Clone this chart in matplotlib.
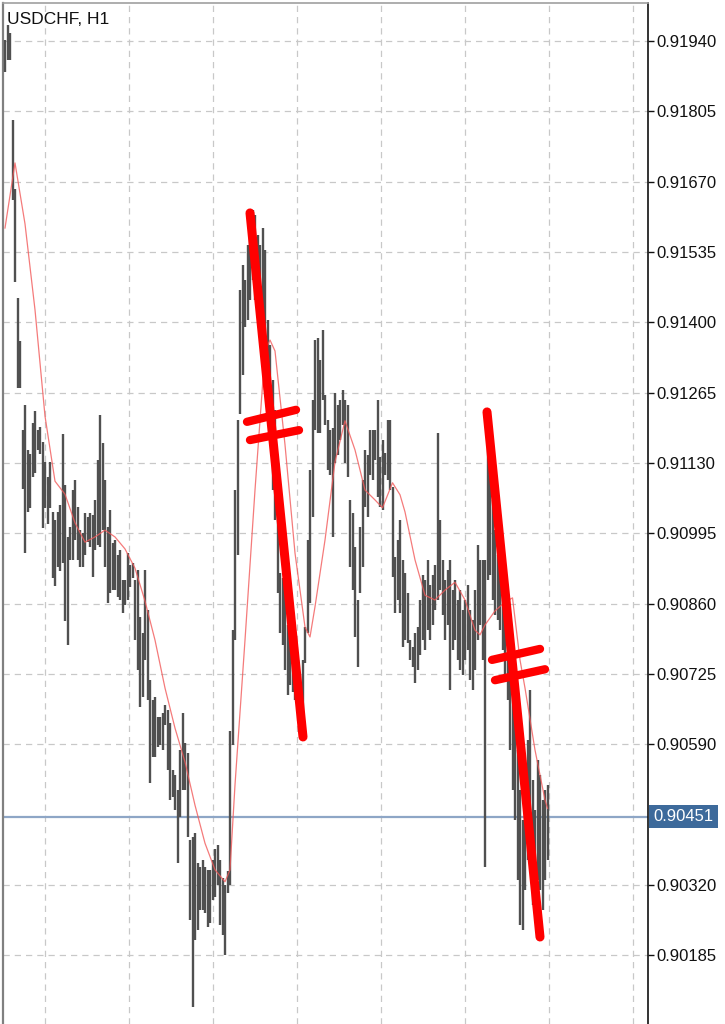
import numpy as np
import matplotlib
matplotlib.use("Agg")
import matplotlib.pyplot as plt

plt.rcParams['font.family'] = ['Liberation Sans', 'DejaVu Sans']

symbol = "USDCHF, H1"

# hourly bars, prices in pipettes (1e-5)
highs = [91942, 91971, 91956, 91789, 91656, 91447, 91364, 91193, 91241, 91155,
         91147, 91207, 91230, 91193, 91199, 91170, 91132, 91103, 91132, 91036,
         91021, 91036, 91049, 91186, 91088, 90988, 91007, 91078, 91097, 91046,
         91001, 90995, 91034, 91026, 91034, 91030, 91059, 91136, 91222, 91168,
         91097, 91007, 91040, 90976, 90982, 90953, 90963, 90905, 90905, 90957,
         90934, 90938, 90905, 90925, 90834, 90804, 90925, 90848, 90713, 90675,
         90681, 90642, 90642, 90650, 90665, 90656, 90631, 90541, 90531, 90502,
         90579, 90650, 90592, 90573, 90406, 90412, 90420, 90362, 90354, 90368,
         90354, 90349, 90349, 90368, 90389, 90397, 90368, 90333, 90320, 90347,
         90615, 90809, 91078, 91213, 91462, 91510, 91481, 91549, 91587, 91616,
         91606, 91568, 91549, 91581, 91539, 91405, 91357, 91289, 91232, 91103,
         90919, 90909, 90880, 90819, 90790, 90781, 90765, 90752, 90723, 90752,
         90815, 90982, 91117, 91251, 91366, 91370, 91328, 91385, 91261, 91213,
         91193, 91197, 91264, 91241, 91251, 91270, 91251, 91241, 91059, 91034,
         90969, 90867, 91007, 91097, 91155, 91145, 91193, 91193, 91193, 91251,
         91142, 91174, 91149, 91213, 91213, 91084, 90950, 90982, 91021, 90944,
         90919, 90880, 90790, 90777, 90804, 90815, 90867, 90915, 90905, 90944,
         90896, 90915, 90934, 91188, 91021, 90944, 90905, 90925, 90944, 90886,
         90905, 90867, 90886, 90848, 90867, 90896, 90848, 90829, 90886, 90973,
         90944, 90944, 90944, 91193, 91136, 91059, 91001, 90953, 90925, 90905,
         90876, 90829, 90761, 90694, 90637, 90579, 90502, 90445, 90560, 90598,
         90694, 90521, 90464, 90560, 90531, 90483, 90502, 90512]

lows = [91881, 91904, 91904, 91635, 91478, 91274, 91274, 91080, 90957, 91036,
        91044, 91103, 91111, 91155, 91147, 91005, 91044, 91013, 91044, 90909,
        90894, 90930, 90923, 90938, 90827, 90781, 90944, 90944, 90982, 90944,
        90930, 90930, 90953, 90978, 90969, 90911, 90963, 90973, 90969, 91001,
        90930, 90861, 90880, 90886, 90886, 90873, 90867, 90842, 90857, 90867,
        90892, 90909, 90790, 90733, 90662, 90681, 90752, 90675, 90516, 90566,
        90566, 90585, 90589, 90579, 90627, 90541, 90483, 90489, 90464, 90362,
        90450, 90502, 90502, 90412, 90253, 90086, 90214, 90233, 90272, 90272,
        90266, 90239, 90247, 90291, 90297, 90320, 90243, 90224, 90185, 90304,
        90320, 90589, 90790, 90953, 91224, 91299, 91391, 91405, 91443, 91481,
        91443, 91433, 91376, 91385, 91270, 91251, 91174, 91078, 91021, 90880,
        90804, 90781, 90733, 90685, 90704, 90690, 90675, 90652, 90646, 90637,
        90746, 90804, 90861, 91026, 91193, 91188, 91188, 91251, 91203, 91117,
        91107, 90988, 91130, 91145, 91174, 91203, 91130, 91103, 90930, 90886,
        90796, 90738, 90880, 90930, 91046, 91026, 91107, 91097, 91136, 91065,
        91046, 91040, 91107, 91097, 91078, 90911, 90842, 90867, 90842, 90777,
        90790, 90784, 90752, 90738, 90708, 90733, 90761, 90790, 90771, 90809,
        90790, 90819, 90848, 90867, 90886, 90838, 90790, 90819, 90694, 90771,
        90790, 90752, 90733, 90723, 90752, 90771, 90713, 90694, 90733, 90790,
        90819, 90752, 90354, 90905, 90915, 90867, 90838, 90829, 90809, 90771,
        90713, 90675, 90579, 90502, 90445, 90329, 90243, 90233, 90310, 90368,
        90425, 90281, 90291, 90329, 90310, 90272, 90329, 90368]

# moving average read at selected bars
ma_idx = [0, 4, 8, 12, 16, 20, 24, 28, 32, 36, 40, 44, 48, 52, 56, 60, 64, 68,
          72, 76, 80, 84, 88, 90, 92, 96, 100, 104, 106, 108, 112, 116, 120,
          122, 124, 128, 132, 136, 140, 144, 148, 151, 155, 158, 160, 164, 168,
          172, 176, 180, 184, 188, 190, 192, 196, 200, 203, 206, 208, 212, 216,
          217]
ma_val = [91581, 91706, 91589, 91424, 91220, 91095, 91070, 91015, 90978, 90988,
          91001, 90988, 90965, 90928, 90865, 90790, 90698, 90621, 90556, 90473,
          90400, 90349, 90326, 90349, 90512, 90790, 91078, 91345, 91366, 91345,
          91165, 90957, 90815, 90796, 90854, 90982, 91132, 91211, 91155, 91078,
          91059, 91044, 91092, 91069, 91036, 90944, 90876, 90867, 90886, 90901,
          90867, 90809, 90800, 90819, 90846, 90863, 90871, 90752, 90698, 90579,
          90483, 90467]

current_price = 0.90451
tick_values = [0.90185, 0.90320, 0.90590, 0.90725, 0.90860, 0.90995,
               0.91130, 0.91265, 0.91400, 0.91535, 0.91670, 0.91805, 0.91940]

# hand drawn trend lines: (bar, price) pairs
trend_lines = [((98, 0.91610), (119.2, 0.90604)),
               ((192.8, 0.91228), (214, 0.90220))]
equal_marks = [((96.8, 0.91209), (116.4, 0.91232)),
               ((98, 0.91174), (117.6, 0.91193)),
               ((194.8, 0.90752), (214, 0.90773)),
               ((196, 0.90713), (216, 0.90734))]

hi = np.array(highs) / 1e5
lo = np.array(lows) / 1e5
idx = np.arange(len(hi))

fig = plt.figure(figsize=(7.25, 10.24), dpi=100)
ax = fig.add_axes([3 / 725, 0, 645 / 725, 1021 / 1024])

ax.vlines(idx, lo, hi, color='#505050', lw=1.7, zorder=3)
ax.plot(ma_idx, np.array(ma_val) / 1e5, color='#f25a5a', lw=0.9, alpha=0.8, zorder=4)

ax.axhline(current_price, color='#8ea6c6', lw=1.6, zorder=2)

for (x0, y0), (x1, y1) in trend_lines:
    ax.plot([x0, x1], [y0, y1], color='#ff0000', lw=6.5, solid_capstyle='round', zorder=5)
for (x0, y0), (x1, y1) in equal_marks:
    ax.plot([x0, x1], [y0, y1], color='#ff0000', lw=6, solid_capstyle='round', zorder=5)

ax.set_xlim(-0.8, 257.2)
ax.set_ylim(0.90053, 0.92013)

ax.set_xticks(np.arange(15.8, 257, 33.6))
ax.set_xticklabels([])
ax.tick_params(axis='x', length=0)
ax.set_yticks(tick_values)
ax.set_yticklabels([f"{v:.5f}" for v in tick_values])
ax.yaxis.tick_right()
ax.tick_params(axis='y', length=4, width=1, pad=2, labelsize=12, colors='#111111')
ax.grid(True, color='#c8c8c8', linestyle=(0, (5, 4)), lw=0.9, zorder=0)

ax.spines['bottom'].set_visible(False)
ax.spines['left'].set_color('#808080')
ax.spines['left'].set_linewidth(1.6)
ax.spines['top'].set_color('#a0a0a0')
ax.spines['top'].set_linewidth(1.2)
ax.spines['right'].set_color('#111111')
ax.spines['right'].set_linewidth(1.2)

ax.annotate(f"{current_price:.5f}", xy=(1, current_price),
            xycoords=('axes fraction', 'data'), xytext=(4, 0), textcoords='offset points',
            ha='left', va='center', fontsize=12, color='white',
            bbox=dict(boxstyle='square,pad=0.25', fc='#3d6a9b', ec='none'),
            annotation_clip=False, zorder=6)

fig.text(7 / 725, 1 - 19 / 1024, symbol, ha='left', va='center', fontsize=12.5, color='#111111')

fig.savefig("out.png", dpi=100)
